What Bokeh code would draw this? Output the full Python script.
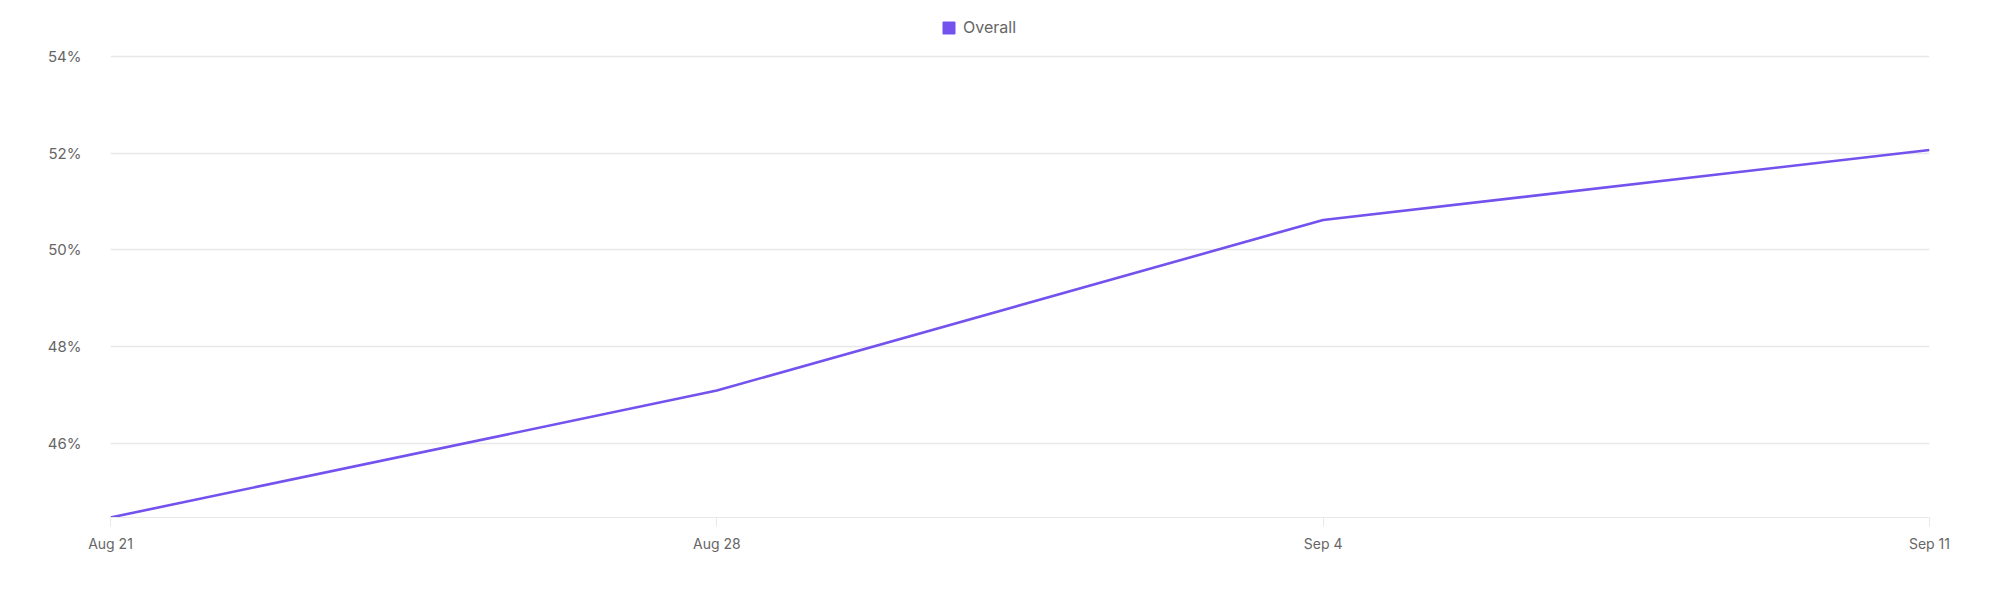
from datetime import datetime
from bokeh.plotting import figure
from bokeh.models import Range1d, FixedTicker, DatetimeTickFormatter, Legend, LegendItem, CustomJSTickFormatter
from bokeh.embed import file_html
from bokeh.resources import INLINE

dates = ["2023-08-21", "2023-08-28", "2023-09-04", "2023-09-11"]
overall = [44.46, 47.09, 50.62, 52.07]
y_ticks = [46, 48, 50, 52, 54]
series_name = "Overall"

xs = [datetime.strptime(d, "%Y-%m-%d") for d in dates]
x_ms = [x.timestamp() * 1000 for x in xs]

FONT = "Inter"
TXT = "#666666"
GRID = "#e8e8e8"
LINE = "#7352ee"

# frame extends up to the legend row; the y axis has no line, so the extra
# headroom above 54% is only blank space (as in the reference)
p = figure(width=1984, height=588, x_axis_type="datetime",
           output_backend="svg", toolbar_location=None,
           x_range=Range1d(x_ms[0], x_ms[-1]),
           y_range=Range1d(min(overall), 55.0),
           min_border_left=110, min_border_right=55,
           min_border_top=8, min_border_bottom=71)
p.outline_line_color = None
p.background_fill_color = "white"

line = p.line(xs, overall, line_color=LINE, line_width=2.6)
nan = float("nan")
swatch = p.quad(left=[nan], right=[nan], top=[nan], bottom=[nan],
                fill_color=LINE, line_color=LINE)

legend = Legend(items=[LegendItem(label=series_name, renderers=[swatch])],
                orientation="horizontal", location=(831, 480),
                label_text_font=FONT, label_text_font_size="16px",
                label_text_color=TXT, border_line_color=None,
                background_fill_alpha=0, margin=0, padding=0,
                glyph_width=15, glyph_height=15, label_standoff=7,
                label_height=20)
p.add_layout(legend, "center")

# x axis
xa = p.xaxis[0]
xa.ticker = FixedTicker(ticks=x_ms)
xa.formatter = DatetimeTickFormatter(days="%b %-d", months="%b %-d")
xa.axis_line_color = GRID
xa.major_tick_line_color = GRID
xa.major_tick_out = 9
xa.major_tick_in = 0
xa.minor_tick_line_color = None
xa.major_label_text_font = FONT
xa.major_label_text_font_size = "14px"
xa.major_label_text_color = TXT
xa.major_label_standoff = 8

# y axis
ya = p.yaxis[0]
ya.ticker = FixedTicker(ticks=y_ticks)
ya.formatter = CustomJSTickFormatter(code="return tick.toFixed(0) + '%';")
ya.axis_line_color = None
ya.major_tick_line_color = None
ya.minor_tick_line_color = None
ya.major_label_text_font = FONT
ya.major_label_text_font_size = "15px"
ya.major_label_text_color = TXT
ya.major_label_standoff = 23

p.xgrid.grid_line_color = None
p.ygrid.grid_line_color = GRID
p.ygrid.grid_line_width = 1.3

open("out.html", "w").write(file_html(p, INLINE))
